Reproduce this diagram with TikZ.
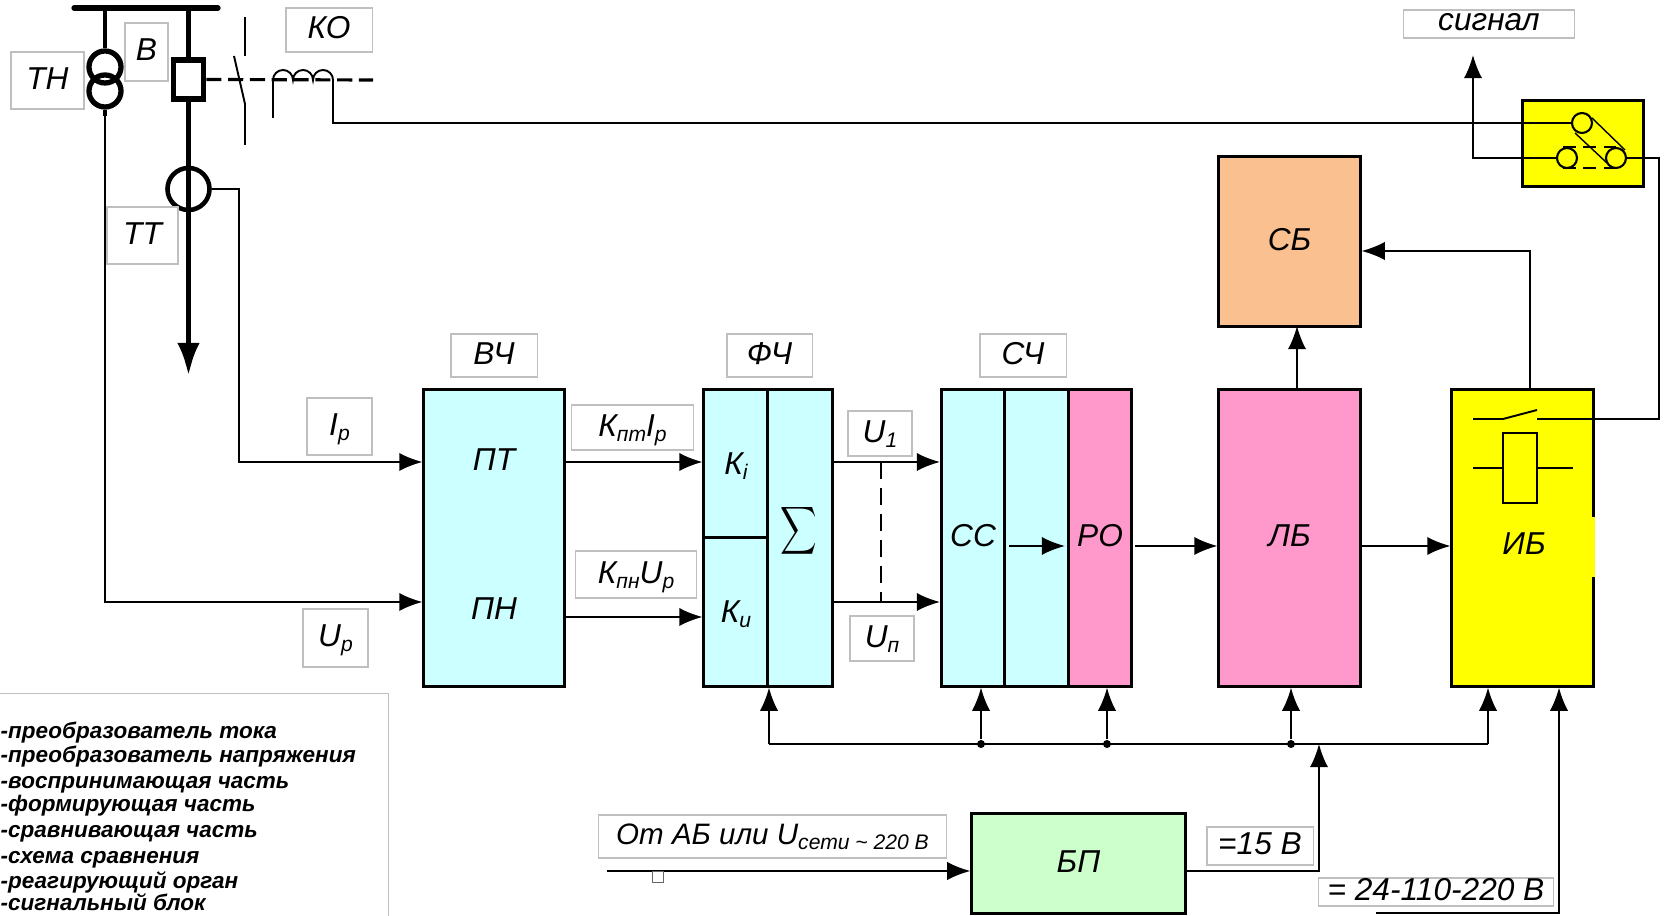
\documentclass[tikz,border=0pt]{standalone}
\usepackage{fontspec}
\setmainfont{Liberation Sans}
\usetikzlibrary{arrows.meta,positioning,calc}
\definecolor{bluefill}{RGB}{204,255,255}
\definecolor{pinkfill}{RGB}{255,153,204}
\definecolor{peachfill}{RGB}{250,192,144}
\definecolor{greenfill}{RGB}{204,255,204}
\definecolor{relayfill}{RGB}{255,255,0}
\newcommand{\lowpart}[1]{\raisebox{-0.3ex}{\fontsize{6}{8}\selectfont #1}}

\begin{document}
\begin{tikzpicture}[x=0.01cm,y=-0.01cm,font=\itshape\fontsize{9}{11}\selectfont,
  flow/.style={-{Latex[length=6.6pt,width=5.2pt]},draw=black,line width=0.55pt},
  wire/.style={draw=black,line width=0.55pt},
  block/.style={draw=black,line width=0.85pt,inner sep=0pt,text depth=1.3pt},
  tag/.style={draw=black!25,fill=white,line width=0.3pt,inner sep=0pt,text depth=1.3pt},
  joint/.style={circle,fill=black,minimum size=0.08cm,inner sep=0pt},
  coilring/.style={circle,draw=black,line width=1.5pt,minimum size=0.32cm,inner sep=0pt},
  contact/.style={circle,draw=black,line width=0.6pt,minimum size=0.2cm,inner sep=0pt},
  legend/.style={anchor=west,inner sep=0pt,text height=5pt,text depth=1.5pt,
    font=\itshape\bfseries\fontsize{6.4}{8}\selectfont}]
\useasboundingbox (0,0) rectangle (1666,916);

% Switchgear at the top left.
\coordinate (busl) at (74,8);
\coordinate (busr) at (218,8);
\draw[line width=1.5pt,line cap=round] (busl)--(busr);
\node[coilring] (tnu) at (105,67) {};
\node[coilring] (tnl) at (105,91) {};
\node[draw=black,fill=white,line width=1.6pt,minimum width=0.3cm,minimum height=0.39cm,inner sep=0pt] (brk) at (188.5,79.5) {};
\node[circle,draw=black,line width=1.3pt,minimum size=0.42cm,inner sep=0pt] (tt) at (188.5,189) {};
\coordinate (feeder) at (188.5,376);
\draw[line width=1pt] (tnu |- busl)--(tnu.north);
\draw[line width=1.4pt] (brk |- busl)--(brk.north);
\draw[-{Latex[length=9.4pt,width=6.4pt]},line width=1.6pt] (brk.south)--(feeder);

% Trip circuit with its coil.
\coordinate (dashend) at (373,80);
\coordinate (coila) at (273,80);
\coordinate (coilb) at (333,80);
\draw[line width=0.9pt,dash pattern=on 4.3pt off 1.9pt] (brk.east)--(dashend);
\draw[wire] (245,17)--(245,56);
\draw[wire] (234,56)--(245,104)--(245,145);
\draw[wire] (coila) arc[start angle=180,end angle=0,radius=0.1cm]
  arc[start angle=180,end angle=0,radius=0.1cm]
  arc[start angle=180,end angle=0,radius=0.1cm];
\draw[wire] (coila)--(273,118);

% Blocks, from left to right.
\node[block,fill=bluefill,minimum width=1.4cm,minimum height=2.96cm] (vch) at (494,538) {};
\node (pt) at (494,460) {ПТ};
\node (pn) at (494,609) {ПН};
\node[block,fill=bluefill,text depth=0pt,minimum width=0.64cm,minimum height=1.48cm] (ki) at (736,464) {К\lowpart{i}};
\node[block,fill=bluefill,text depth=0pt,minimum width=0.64cm,minimum height=1.48cm] (ku) at (736,612) {К\lowpart{u}};
\node[block,fill=bluefill,minimum width=0.64cm,minimum height=2.96cm] (summ) at (800,538) {};
\node[inner sep=0pt] (sumsign) at (799,531) {\scalebox{0.72}[0.95]{$\displaystyle\sum$}};
\node[block,fill=bluefill,minimum width=0.63cm,minimum height=2.96cm] (cc) at (973,538) {СС};
\node[block,fill=bluefill,minimum width=0.64cm,minimum height=2.96cm] (mid) at (1036.5,538) {};
\node[block,fill=pinkfill,minimum width=0.63cm,minimum height=2.96cm] (ro) at (1100,538) {РО};
\node[block,fill=pinkfill,minimum width=1.41cm,minimum height=2.96cm] (lb) at (1289.5,538) {ЛБ};
\node[block,fill=peachfill,minimum width=1.41cm,minimum height=1.69cm] (sb) at (1289.5,241.5) {СБ};
\node[block,fill=relayfill,minimum width=1.41cm,minimum height=2.96cm] (ib) at (1522.5,538) {};
\node (ibtext) at (1524,544) {ИБ};
\node[block,fill=greenfill,minimum width=2.13cm,minimum height=0.99cm] (bp) at (1078.5,863.5) {БП};
\node[block,fill=relayfill,minimum width=1.2cm,minimum height=0.85cm] (relbox) at (1583,143.5) {};
\draw[relayfill,line width=1pt] (1593,517)--(1593,577);

% Relay inside the output block.
\node[draw=black,line width=0.55pt,minimum width=0.34cm,minimum height=0.7cm,inner sep=0pt] (coil) at (1520,468) {};
\draw[wire] (1473,468)--(coil.west);
\draw[wire] (coil.east)--(1573,468);
\draw[wire] (1473,419)--(1503,419)--(1537,410);

% Auxiliary contacts of the breaker.
\node[contact] (topc) at (1582,123) {};
\node[contact] (leftc) at (1567,158) {};
\node[contact] (rightc) at (1616,158) {};
\draw[line width=0.4pt] (1592,118)--(1625,150);
\draw[line width=0.4pt] (1575,133)--(1607,163);
\draw[line width=0.8pt,dash pattern=on 3.6pt off 2.2pt] (1563,147)--(1618,147);
\draw[line width=0.8pt,dash pattern=on 3.6pt off 2.2pt] (1563,168)--(1618,168);

% Connectors.
\coordinate (inI) at (239,462);
\coordinate (inU) at (105,602);
\coordinate (outU) at (564,617);
\coordinate (elbow) at (333,123);
\coordinate (sigtip) at (1473,55);
\coordinate (outer) at (1659,158);
\coordinate (shut) at (1659,419);
\coordinate (upfeed) at (1530,251);
\coordinate (sbfeed) at (1297,326);
\draw[line width=1pt] (tnl.south)--(105,116);
\draw[flow] (tnl.south)--(inU)--(inU -| vch.west);
\draw[flow] (tt.east)-|(inI)--(inI -| vch.west);
\draw[flow] (inI -| vch.east)--(inI -| ki.west);
\draw[flow] (outU -| vch.east)--(outU -| ku.west);
\draw[flow] (inI -| summ.east)--(inI -| cc.west);
\draw[flow] (inU -| summ.east)--(inU -| cc.west);
\draw[line width=0.8pt,dash pattern=on 4.8pt off 2.6pt] (881,462)--(881,602);
\coordinate (midline) at (1009,546);
\draw[flow] (midline)--(1065,546);
\draw[flow] (1135,546)--(midline -| lb.west);
\draw[flow] (midline -| lb.east)--(midline -| ib.west);
\draw[flow] (sbfeed |- lb.north)--(sbfeed);
\draw[flow] (upfeed |- ib.north)--(upfeed)--(upfeed -| sb.east);
\draw[wire] (coilb)--(elbow)--(elbow -| topc.west);
\draw[-{Latex[length=6.6pt,width=5.2pt]},wire] (leftc.west)-|(sigtip);
\draw[wire] (rightc.east)--(outer)--(shut)--(1537,419);

% Supply rail.
\coordinate (raila) at (769,744);
\coordinate (railb) at (1488,744);
\node[joint] (ja) at (981,744) {};
\node[joint] (jb) at (1107,744) {};
\node[joint] (jc) at (1291,744) {};
\coordinate (jd) at (1319,744);
\draw[wire] (raila)--(railb);
\draw[flow] (raila)--(raila |- summ.south);
\draw[flow] (ja)--(ja |- cc.south);
\draw[flow] (jb)--(jb |- ro.south);
\draw[flow] (jc)--(jc |- lb.south);
\draw[flow] (railb)--(railb |- ib.south);
\coordinate (feedin) at (607,871);
\coordinate (dcin) at (1376,913);
\coordinate (dccorner) at (1559,913);
\draw[flow] (feedin)--(feedin -| bp.west);
\draw[flow] (bp.east |- feedin)-|(jd);
\draw[flow] (dcin)--(dccorner)--(dccorner |- ib.south);
\node[draw=black!60,fill=white,line width=0.3pt,minimum size=0.11cm,inner sep=0pt] (stub) at (658,877) {};

% Captions.
\node[tag,minimum width=0.73cm,minimum height=0.57cm] (tntag) at (47.5,80.5) {ТН};
\node[tag,minimum width=0.43cm,minimum height=0.58cm] (vtag) at (146.5,52) {В};
\node[tag,minimum width=0.86cm,minimum height=0.44cm] (kotag) at (329,30) {КО};
\node[tag,minimum width=0.71cm,minimum height=0.57cm] (tttag) at (142.5,235.5) {ТТ};
\node[tag,minimum width=0.65cm,minimum height=0.57cm] (iptag) at (339.5,426.5) {I\lowpart{р}};
\node[tag,minimum width=0.65cm,minimum height=0.58cm] (uptag) at (335.5,638) {U\lowpart{р}};
\node[tag,minimum width=0.86cm,minimum height=0.43cm] (vchtag) at (494,355.5) {ВЧ};
\node[tag,minimum width=0.85cm,minimum height=0.43cm] (fchtag) at (769.5,355.5) {ФЧ};
\node[tag,minimum width=0.86cm,minimum height=0.43cm] (schtag) at (1023,355.5) {СЧ};
\node[tag,minimum width=1.21cm,minimum height=0.45cm] (kitag) at (632.5,427.5) {К\lowpart{пт}I\lowpart{р}};
\node[tag,minimum width=1.2cm,minimum height=0.47cm] (kutag) at (636,574.5) {К\lowpart{пн}U\lowpart{р}};
\node[tag,minimum width=0.64cm,minimum height=0.45cm] (uatag) at (880,433.5) {U\lowpart{1}};
\node[tag,minimum width=0.64cm,minimum height=0.45cm] (untag) at (882,638.5) {U\lowpart{п}};
\node[tag,minimum width=1.7cm,minimum height=0.28cm] (sigtag) at (1489,24) {сигнал};
\node[tag,minimum width=3.47cm,minimum height=0.43cm] (mains) at (772.5,836.5)
  {\fontsize{8.4}{11}\selectfont От АБ или U\lowpart{сети \textasciitilde\ 220 В}};
\node[tag,minimum width=1.06cm,minimum height=0.38cm] (dcsmall) at (1260,846) {=15 В};
\node[tag,minimum width=2.34cm,minimum height=0.28cm] (dcbig) at (1436,892) {= 24-110-220 В};

% Legend, cut by the page edge.
\node[tag,minimum width=3.92cm,minimum height=2.3cm] (legbox) at (192,809) {};
\foreach \ypos/\line [count=\i] in {732/-преобразователь  тока,756/-преобразователь  напряжения,
    782/-воспринимающая часть,805/-формирующая часть,831/-сравнивающая часть,
    857/-схема сравнения,882/-реагирующий орган,904/-сигнальный блок}
  \node[legend] (leg\i) at (0,\ypos) {\line};
\end{tikzpicture}
\end{document}
